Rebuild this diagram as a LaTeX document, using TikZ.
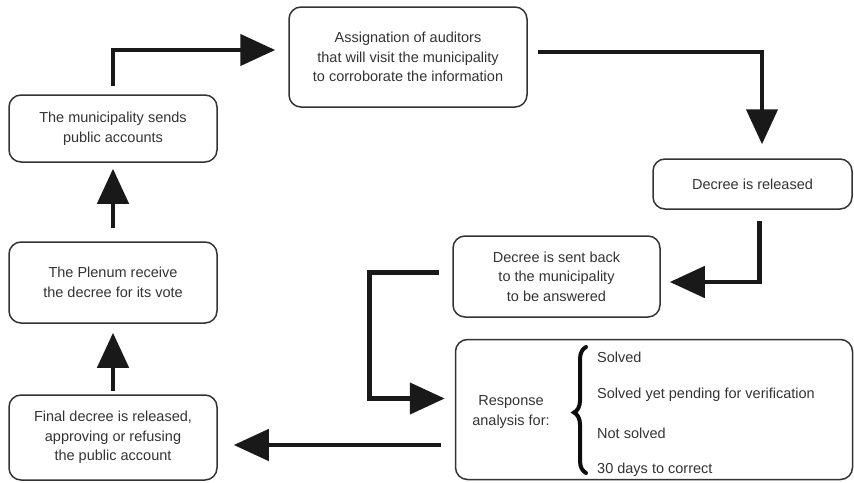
\documentclass[tikz,border=0pt]{standalone}
\usepackage{fontspec}
\setmainfont{Liberation Sans}
\usetikzlibrary{arrows.meta,decorations.pathreplacing,calc}
\begin{document}
\begin{tikzpicture}[x=1pt,y=1pt,
  box/.style={draw=black!80, line width=1.5pt, rounded corners=12pt, align=center,
    inner sep=0pt, text=black!80, font=\fontsize{14.5}{19.5}\selectfont},
  txt/.style={inner sep=0pt, text=black!80, font=\fontsize{14.5}{19.5}\selectfont},
  arr/.style={draw=black!90, line width=4.5pt, -{Triangle[length=35pt,width=31pt]}}]
\useasboundingbox (0,0) rectangle (854,-482);
\node[box, minimum width=208pt, minimum height=67pt] (mun) at (113,-128.5) {The municipality sends\\public accounts};
\node[box, minimum width=238pt, minimum height=100pt] (assign) at (408,-57) {Assignation of auditors\\that will visit the municipality\\to corroborate the information};
\node[box, minimum width=199pt, minimum height=50pt] (rel) at (752.5,-184) {Decree is released};
\node[box, minimum width=207pt, minimum height=81pt] (back) at (556.5,-276.5) {Decree is sent back\\to the municipality\\to be answered};
\node[box, minimum width=397pt, minimum height=140pt] (resp) at (654,-409.5) {};
\node[box, minimum width=208pt, minimum height=81pt] (plen) at (113,-282.5) {The Plenum receive\\the decree for its vote};
\node[box, minimum width=208pt, minimum height=85pt] (fin) at (113,-437.5) {Final decree is released,\\approving or refusing\\the public account};
% response contents
\node[txt, align=center] (ra) at (511,-412) {Response\\analysis for:};
\node[txt, anchor=west] (i1) at (597,-357) {Solved};
\node[txt, anchor=west] (i2) at (597,-395) {Solved yet pending for verification};
\node[txt, anchor=west] (i3) at (597,-433) {Not solved};
\node[txt, anchor=west] (i4) at (597,-470) {30 days to correct};
\coordinate (bb) at (586,-473);
\coordinate (bt) at (586,-347);
\draw[black!95, line width=4pt, line cap=round, decoration={brace, amplitude=12pt, aspect=0.48}, decorate] (bb) -- (bt);
% connectors
\draw[arr, shorten <=8pt] (mun.north) |- ([xshift=-13pt,yshift=7pt]assign.west);
\draw[arr] ([xshift=10pt,yshift=5pt]assign.east) -| ([xshift=9.5pt,yshift=14pt]rel.north);
\draw[arr] ([xshift=7pt,yshift=-11pt]rel.south) |- ([xshift=9pt,yshift=-5.5pt]back.east);
\draw[arr] ([xshift=-13pt,yshift=4pt]back.west) -- ++(-70,0) |- ([xshift=-10pt,yshift=11pt]resp.west);
\draw[arr] ([xshift=-14pt,yshift=-35.5pt]resp.west) -- ([xshift=16pt,yshift=-7.5pt]fin.east);
\draw[arr, shorten <=3pt, shorten >=9pt] (fin.north) -- (plen.south);
\draw[arr, shorten <=13pt, shorten >=6pt] (plen.north) -- (mun.south);
\end{tikzpicture}
\end{document}
